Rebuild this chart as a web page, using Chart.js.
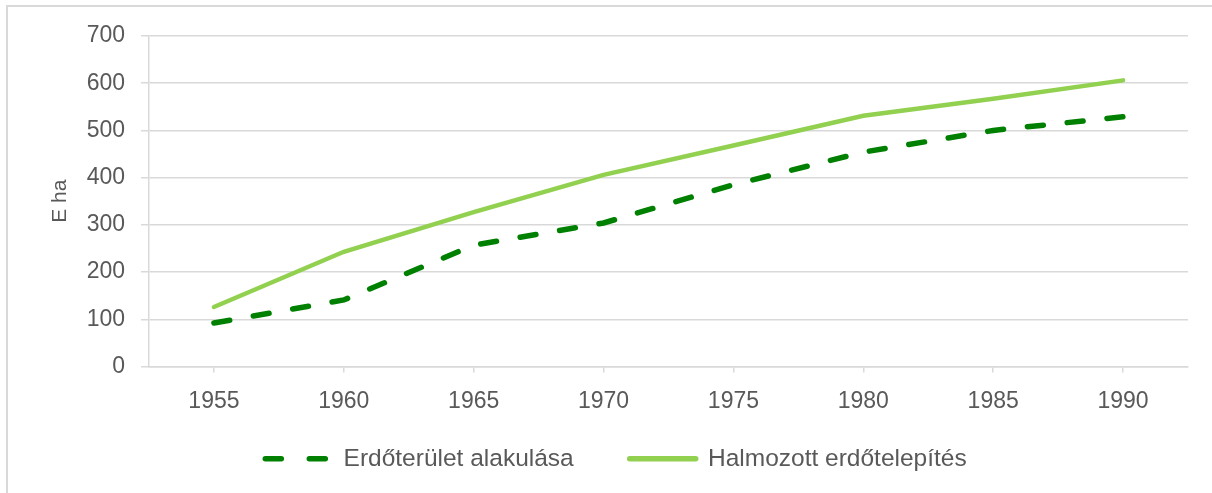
<!DOCTYPE html>
<html>
<head>
<meta charset="utf-8">
<script src="https://cdn.jsdelivr.net/npm/chart.js@4"></script>
<style>
  html, body { margin: 0; padding: 0; background: #fff; }
  #frame { position: absolute; left: 6px; top: 5px; width: 1220px; height: 500px;
           border: 2px solid #d9d9d9; box-sizing: border-box; }
  #wrap { position: absolute; left: 0; top: 0; width: 1212px; height: 493px; }
</style>
</head>
<body>
<div id="frame"></div>
<div id="wrap"><canvas id="myChart"></canvas></div>
<script>
// Data
const years = ["1955", "1960", "1965", "1970", "1975", "1980", "1985", "1990"];
const erdoterulet = [92, 141, 257, 304, 385, 454, 500, 529];
const halmozott = [126, 243, 327, 406, 468, 531, 567, 606];
const seriesNames = ["Erdőterület alakulása", "Halmozott erdőtelepítés"];
const yTicks = [0, 100, 200, 300, 400, 500, 600, 700];

const FONT = "'Liberation Sans', Arial, sans-serif";
const GREY = "#595959";
const GRID = "#d9d9d9";
const LEGEND_LIFT = 36; // legend padding is big for the item gap, pull it back up

// moves the legend box up after layout (hitboxes get rebuilt in afterUpdate)
const liftLegend = {
  id: 'liftLegend',
  afterLayout(chart) {
    if (!chart.legend) return;
    chart.legend.top -= LEGEND_LIFT;
    chart.legend.bottom -= LEGEND_LIFT;
  }
};

let ctx = document.getElementById('myChart').getContext('2d');
let myChart = new Chart(ctx, {
  type: 'line',
  data: {
    labels: years,
    datasets: [
      {
        label: seriesNames[0],
        data: erdoterulet,
        borderColor: "#008000",
        backgroundColor: "#008000",
        borderWidth: 5.5,
        borderDash: [16, 24],
        borderCapStyle: 'round',
        pointRadius: 0,
        tension: 0
      },
      {
        label: seriesNames[1],
        data: halmozott,
        borderColor: "#92d050",
        backgroundColor: "#92d050",
        borderWidth: 4.5,
        borderCapStyle: 'round',
        pointRadius: 0,
        tension: 0
      }
    ]
  },
  plugins: [liftLegend],
  options: {
    responsive: true,
    maintainAspectRatio: false,
    animation: false,
    layout: { padding: { left: 20, right: 0, top: 36, bottom: -24 } },
    plugins: {
      tooltip: { enabled: false },
      legend: {
        position: 'bottom',
        labels: {
          usePointStyle: true,
          pointStyle: 'line',
          pointStyleWidth: 66,
          padding: 56,
          color: GREY,
          font: { family: FONT, size: 24.5 },
          generateLabels(chart) {
            let items = Chart.defaults.plugins.legend.labels.generateLabels(chart);
            items.forEach((it, i) => {
              it.lineWidth = 5.5;
              it.lineCap = 'round';
              if (i === 0) it.lineDash = [16, 28];
            });
            return items;
          }
        }
      }
    },
    scales: {
      x: {
        offset: true,
        grid: { drawOnChartArea: false, color: GRID, lineWidth: 1.5, tickLength: 6, offset: false },
        border: { color: GRID, width: 1.5 },
        ticks: { color: GREY, font: { family: FONT, size: 23 }, padding: 15, maxRotation: 0 },
        afterFit(scale) { scale.height = 60; }
      },
      y: {
        min: 0,
        max: 700,
        grid: { color: GRID, lineWidth: 1.5, tickLength: 8 },
        border: { color: GRID, width: 1.5 },
        afterBuildTicks(scale) { scale.ticks = yTicks.map(v => ({ value: v })); },
        ticks: { color: GREY, font: { family: FONT, size: 23 }, padding: 16 },
        title: { display: true, text: "E ha", color: GREY, font: { family: FONT, size: 21 }, padding: { top: 28, bottom: 4 } },
        afterFit(scale) { scale.width = 129; }
      },
      y2: {
        position: 'right',
        display: true,
        grid: { display: false },
        border: { display: false },
        ticks: { display: false },
        afterFit(scale) { scale.width = 24; }
      }
    }
  }
});
</script>
</body>
</html>
